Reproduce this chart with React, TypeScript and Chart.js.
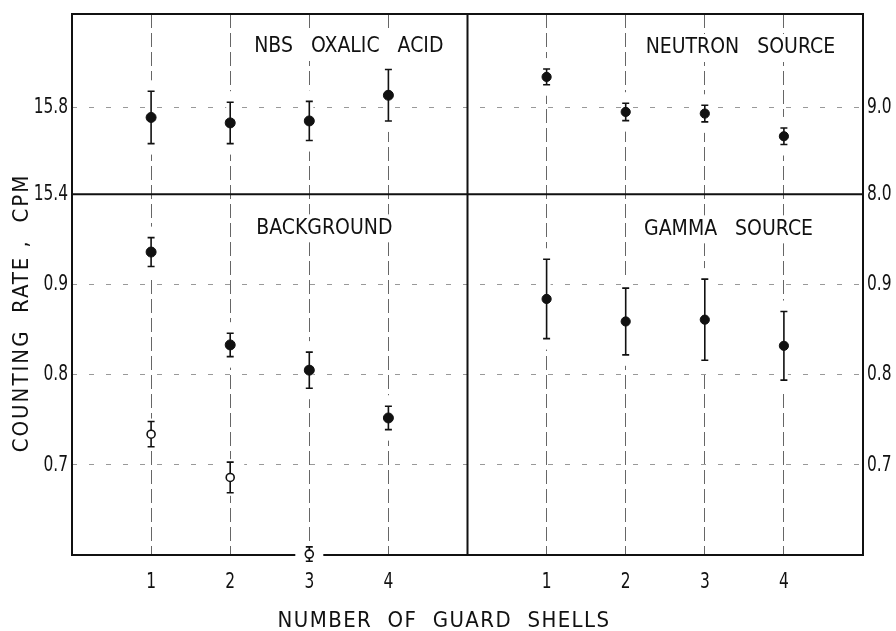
import React, { useEffect, useRef } from "react";
import { Chart, registerables } from "chart.js";

Chart.register(...registerables);

// ---- data ----
const shells = [1, 2, 3, 4];
const oxalicRate = [15.753, 15.728, 15.737, 15.855];
const oxalicErr = [0.12, 0.095, 0.09, 0.118];
const neutronRate = [9.348, 8.946, 8.927, 8.667];
const neutronErr = [0.09, 0.1, 0.095, 0.095];
const backgroundRate = [0.936, 0.833, 0.805, 0.752];
const backgroundErr = [0.016, 0.013, 0.02, 0.013];
const backgroundOpenShells = [1, 2, 3];
const backgroundOpenRate = [0.734, 0.686, 0.601];
const backgroundOpenErr = [0.014, 0.017, 0.008];
const gammaRate = [0.884, 0.859, 0.861, 0.832];
const gammaErr = [0.044, 0.037, 0.045, 0.038];

const shellTicks = [1, 2, 3, 4];
const oxalicTicks = [15.4, 15.8];
const neutronTicks = [8.0, 9.0];
const lowerTicks = [0.7, 0.8, 0.9];

const panelTitles = ["NBS   OXALIC   ACID", "NEUTRON   SOURCE", "BACKGROUND", "GAMMA   SOURCE"];
const xTitle = "NUMBER  OF  GUARD  SHELLS";
const yTitle = "COUNTING  RATE ,  CPM";

const FONT = "'DejaVu Sans Condensed', 'DejaVu Sans', sans-serif";
const INK = "#111";

const makeTicks = (vals: number[]) => (scale: any) => {
  scale.ticks = vals.map((v) => ({ value: v }));
};

const setSpacing = (ctx: any, s: string) => {
  try { ctx.letterSpacing = s; } catch (e) {}
};

const errorBarPlugin = {
  id: "errorBarsAndFrame",
  beforeDatasetsDraw(chart: any) {
    const ctx = chart.ctx;
    const { left, right, top, bottom } = chart.chartArea;
    const yDiv = chart.scales.yBot.top;
    const xDiv = chart.scales.xR.left;
    ctx.save();
    // frame
    ctx.strokeStyle = INK;
    ctx.lineWidth = 2;
    ctx.beginPath();
    ctx.moveTo(left, top);
    ctx.lineTo(right, top);
    ctx.lineTo(right, bottom);
    ctx.lineTo(left, bottom);
    ctx.closePath();
    ctx.moveTo(left, yDiv);
    ctx.lineTo(right, yDiv);
    ctx.moveTo(xDiv, top);
    ctx.lineTo(xDiv, bottom);
    ctx.stroke();
    // knockouts
    chart.data.datasets.forEach((ds: any) => {
      const xs = chart.scales[ds.xAxisID];
      const ys = chart.scales[ds.yAxisID];
      const open = ds.open;
      ds.data.forEach((p: any, i: number) => {
        const px = xs.getPixelForValue(p.x);
        const yHi = ys.getPixelForValue(p.y + ds.errors[i]);
        const yLo = ys.getPixelForValue(p.y - ds.errors[i]);
        const hw = open ? 14 : 4;
        const pad = open ? 3 : 11;
        ctx.fillStyle = "#fff";
        ctx.fillRect(px - hw, yHi - pad, hw * 2, yLo - yHi + pad * 2);
      });
    });
    // error bars
    ctx.strokeStyle = INK;
    ctx.lineWidth = 1.6;
    chart.data.datasets.forEach((ds: any) => {
      const xs = chart.scales[ds.xAxisID];
      const ys = chart.scales[ds.yAxisID];
      ds.data.forEach((p: any, i: number) => {
        const px = xs.getPixelForValue(p.x);
        const yHi = ys.getPixelForValue(p.y + ds.errors[i]);
        const yLo = ys.getPixelForValue(p.y - ds.errors[i]);
        ctx.beginPath();
        ctx.moveTo(px, yHi);
        ctx.lineTo(px, yLo);
        ctx.moveTo(px - 3.5, yHi);
        ctx.lineTo(px + 3.5, yHi);
        ctx.moveTo(px - 3.5, yLo);
        ctx.lineTo(px + 3.5, yLo);
        ctx.stroke();
      });
    });
    ctx.restore();
  },
  afterDraw(chart: any) {
    const ctx = chart.ctx;
    ctx.save();
    ctx.fillStyle = INK;
    ctx.textBaseline = "middle";

    // tick labels, placed through each scale (narrow lettering as in the original)
    const sx = 0.78;
    const drawNarrow = (t: string, x: number, y: number, align: CanvasTextAlign) => {
      ctx.save();
      ctx.translate(x, y);
      ctx.scale(sx, 1);
      ctx.textAlign = align;
      ctx.fillText(t, 0, 0);
      ctx.restore();
    };
    ctx.font = `22px ${FONT}`;
    setSpacing(ctx, "0px");
    ["yTop", "yBot"].forEach((id) => {
      const s = chart.scales[id];
      s.ticks.forEach((t: any) => drawNarrow(Number(t.value).toFixed(1), s.right - 4, s.getPixelForValue(t.value), "right"));
    });
    ["yTopR", "yBotR"].forEach((id) => {
      const s = chart.scales[id];
      s.ticks.forEach((t: any) => drawNarrow(Number(t.value).toFixed(1), s.left + 4, s.getPixelForValue(t.value), "left"));
    });
    ["xL", "xR"].forEach((id) => {
      const s = chart.scales[id];
      s.ticks.forEach((t: any) => drawNarrow(String(t.value), s.getPixelForValue(t.value), s.top + 27, "center"));
    });

    // panel titles
    ctx.textAlign = "center";
    ctx.font = `21px ${FONT}`;
    const xL = chart.scales.xL, xR = chart.scales.xR;
    const yTop = chart.scales.yTop, yBot = chart.scales.yBot;
    const anchors = [
      { x: xL.getPixelForValue(3.5), y: yTop.top + 33 },
      { x: xR.getPixelForValue(3.45), y: yTop.top + 34 },
      { x: xL.getPixelForValue(3.19), y: yBot.top + 34 },
      { x: xR.getPixelForValue(3.3), y: yBot.top + 35 },
    ];
    panelTitles.forEach((t, i) => {
      const w = ctx.measureText(t).width;
      ctx.fillStyle = "#fff";
      ctx.fillRect(anchors[i].x - w / 2 - 6, anchors[i].y - 14, w + 12, 28);
      ctx.fillStyle = INK;
      ctx.fillText(t, anchors[i].x, anchors[i].y);
    });
    // axis titles
    ctx.font = `22px ${FONT}`;
    setSpacing(ctx, "1.4px");
    ctx.fillText(xTitle, 444, 621);
    setSpacing(ctx, "2px");
    ctx.translate(22, 313);
    ctx.rotate(-Math.PI / 2);
    ctx.fillText(yTitle, 0, 0);
    ctx.restore();
  },
};

export default function App() {
  const ref = useRef<HTMLCanvasElement | null>(null);
  useEffect(() => {
    if (!ref.current) return;
    const pts = (xs: number[], ys: number[]) => xs.map((x, i) => ({ x, y: ys[i] }));
    const filled = { pointBackgroundColor: INK, pointBorderColor: INK, pointBorderWidth: 1, showLine: false, clip: false as any };
    const hiddenTicks = { display: false };
    const chart = new Chart(ref.current, {
      type: "scatter",
      data: {
        datasets: [
          { label: "NBS oxalic acid", data: pts(shells, oxalicRate), xAxisID: "xL", yAxisID: "yTop", pointRadius: 5, errors: oxalicErr, ...filled } as any,
          { label: "Neutron source", data: pts(shells, neutronRate), xAxisID: "xR", yAxisID: "yTopR", pointRadius: 4.6, errors: neutronErr, ...filled } as any,
          { label: "Background", data: pts(shells, backgroundRate), xAxisID: "xL", yAxisID: "yBot", pointRadius: 5, errors: backgroundErr, ...filled } as any,
          { label: "Background (open)", data: pts(backgroundOpenShells, backgroundOpenRate), xAxisID: "xL", yAxisID: "yBot", pointRadius: 4, errors: backgroundOpenErr, open: true, pointBackgroundColor: "#fff", pointBorderColor: INK, pointBorderWidth: 1.6, showLine: false, clip: false } as any,
          { label: "Gamma source", data: pts(shells, gammaRate), xAxisID: "xR", yAxisID: "yBotR", pointRadius: 4.6, errors: gammaErr, ...filled } as any,
        ],
      },
      options: {
        animation: false,
        responsive: false,
        layout: { padding: { top: 14, left: 0, right: 0, bottom: 0 } },
        plugins: { legend: { display: false }, tooltip: { enabled: false } },
        scales: {
          xL: {
            type: "linear", position: "bottom", stack: "x", stackWeight: 1, weight: 0,
            min: 0, max: 5, afterBuildTicks: makeTicks(shellTicks),
            grid: { color: "#666", lineWidth: 1, drawTicks: false },
            border: { display: false, dash: [14, 5] },
            ticks: hiddenTicks,
            afterFit: (s: any) => { s.height = 76; },
          },
          xR: {
            type: "linear", position: "bottom", stack: "x", stackWeight: 1, weight: 1,
            min: 0, max: 5, afterBuildTicks: makeTicks(shellTicks),
            grid: { color: "#666", lineWidth: 1, drawTicks: false },
            border: { display: false, dash: [14, 5] },
            ticks: hiddenTicks,
            afterFit: (s: any) => { s.height = 76; },
          },
          yTop: {
            type: "linear", position: "left", stack: "y", stackWeight: 1, weight: 1,
            min: 15.4, max: 16.228, afterBuildTicks: makeTicks(oxalicTicks),
            grid: { color: "#999", lineWidth: 1, drawTicks: false },
            border: { display: false, dash: [5, 12] },
            ticks: hiddenTicks,
            afterFit: (s: any) => { s.width = 72; },
          },
          yBot: {
            type: "linear", position: "left", stack: "y", stackWeight: 2, weight: 0,
            min: 0.6, max: 1.0, afterBuildTicks: makeTicks(lowerTicks),
            grid: { color: "#999", lineWidth: 1, drawTicks: false },
            border: { display: false, dash: [5, 12] },
            ticks: hiddenTicks,
            afterFit: (s: any) => { s.width = 72; },
          },
          yTopR: {
            type: "linear", position: "right", stack: "yr", stackWeight: 1, weight: 0,
            min: 8.0, max: 10.07, afterBuildTicks: makeTicks(neutronTicks),
            grid: { display: false, drawTicks: false },
            border: { display: false },
            ticks: hiddenTicks,
            afterFit: (s: any) => { s.width = 33; },
          },
          yBotR: {
            type: "linear", position: "right", stack: "yr", stackWeight: 2, weight: 1,
            min: 0.6, max: 1.0, afterBuildTicks: makeTicks(lowerTicks),
            grid: { display: false, drawTicks: false },
            border: { display: false },
            ticks: hiddenTicks,
            afterFit: (s: any) => { s.width = 33; },
          },
        } as any,
      },
      plugins: [errorBarPlugin],
    });
    return () => chart.destroy();
  }, []);
  return (
    <div style={{ position: "fixed", left: 0, top: 0, width: 896, height: 631, background: "#fff" }}>
      <canvas ref={ref} width={896} height={631} />
    </div>
  );
}
